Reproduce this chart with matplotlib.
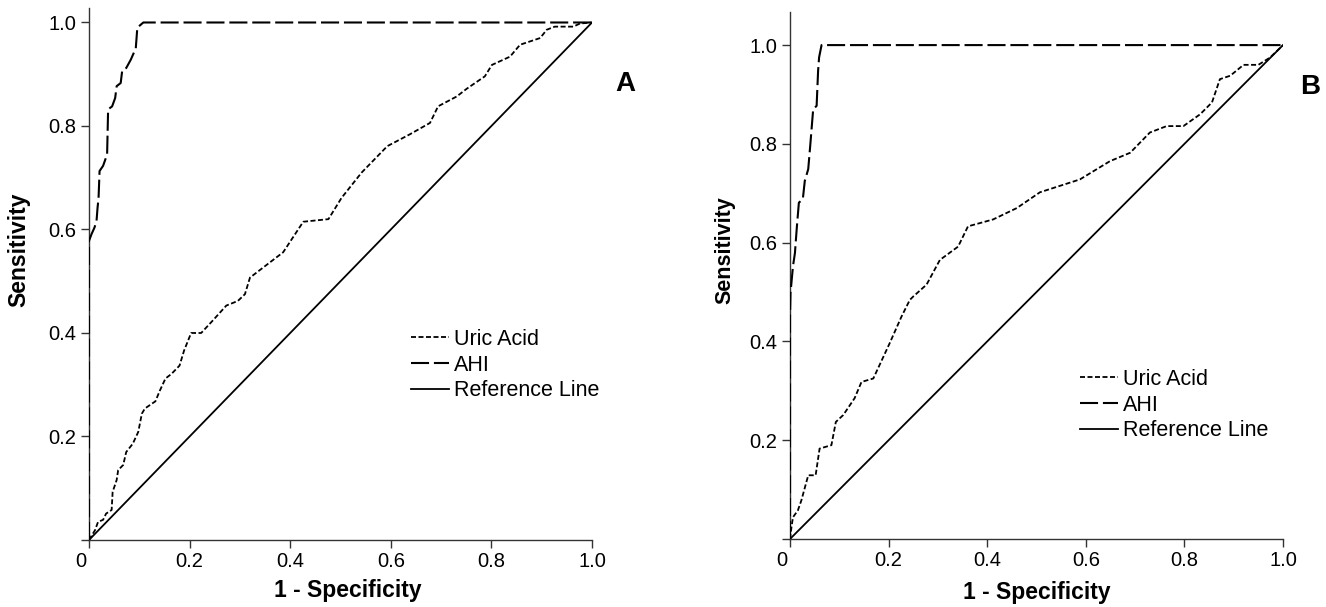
import numpy as np
import matplotlib
matplotlib.use('Agg')
import matplotlib.pyplot as plt

plt.rcParams['font.family'] = ['Liberation Sans', 'DejaVu Sans']
plt.rcParams['lines.scale_dashes'] = False

# Panel A - ROC curves
a_ahi_x = [0, 0, 0.005, 0.011, 0.015, 0.017, 0.019, 0.021, 0.028, 0.036, 0.038, 0.046,
           0.052, 0.055, 0.063, 0.066, 0.074, 0.083, 0.093, 0.095, 0.096, 0.108, 1.0]
a_ahi_y = [0, 0.578, 0.591, 0.604, 0.617, 0.642, 0.661, 0.713, 0.723, 0.745, 0.832, 0.838,
           0.854, 0.877, 0.883, 0.907, 0.912, 0.928, 0.950, 0.976, 0.990, 1.0, 1.0]

a_uric_x = [0, 0.012, 0.018, 0.028, 0.034, 0.045, 0.047, 0.055, 0.058, 0.068, 0.074, 0.087,
            0.098, 0.105, 0.111, 0.132, 0.141, 0.152, 0.164, 0.180, 0.189, 0.203, 0.223,
            0.246, 0.273, 0.296, 0.310, 0.320, 0.386, 0.426, 0.476, 0.502, 0.542, 0.593,
            0.638, 0.678, 0.694, 0.731, 0.751, 0.787, 0.801, 0.837, 0.857, 0.897, 0.910,
            0.926, 0.963, 0.976, 1.0]
a_uric_y = [0, 0.019, 0.035, 0.039, 0.051, 0.058, 0.093, 0.116, 0.135, 0.145, 0.170, 0.186,
            0.209, 0.244, 0.254, 0.268, 0.289, 0.312, 0.321, 0.337, 0.366, 0.400, 0.400,
            0.424, 0.453, 0.462, 0.475, 0.507, 0.556, 0.615, 0.620, 0.661, 0.710, 0.761,
            0.784, 0.806, 0.838, 0.857, 0.872, 0.896, 0.918, 0.934, 0.957, 0.970, 0.986,
            0.992, 0.992, 0.998, 1.0]

# Panel B
b_ahi_x = [0, 0, 0.001, 0.006, 0.010, 0.014, 0.018, 0.026, 0.030, 0.037, 0.041, 0.047,
           0.054, 0.057, 0.059, 0.064, 1.0]
b_ahi_y = [0, 0.45, 0.498, 0.552, 0.579, 0.633, 0.681, 0.688, 0.725, 0.749, 0.796, 0.870,
           0.877, 0.948, 0.975, 1.0, 1.0]

b_uric_x = [0, 0.003, 0.006, 0.016, 0.023, 0.037, 0.052, 0.060, 0.084, 0.093, 0.108, 0.131,
            0.145, 0.169, 0.202, 0.226, 0.243, 0.250, 0.277, 0.304, 0.341, 0.361, 0.412,
            0.460, 0.507, 0.588, 0.649, 0.690, 0.730, 0.764, 0.798, 0.832, 0.856, 0.872,
            0.893, 0.920, 0.950, 0.974, 1.0]
b_uric_y = [0, 0.024, 0.044, 0.058, 0.078, 0.129, 0.129, 0.183, 0.190, 0.237, 0.251, 0.285,
            0.318, 0.325, 0.396, 0.450, 0.484, 0.491, 0.515, 0.565, 0.592, 0.633, 0.647,
            0.670, 0.702, 0.728, 0.765, 0.782, 0.823, 0.836, 0.836, 0.860, 0.884, 0.931,
            0.938, 0.960, 0.960, 0.975, 1.0]

ref_line = [0, 1]
tick_vals = [0, 0.2, 0.4, 0.6, 0.8, 1.0]
x_labels = ['', '0.2', '0.4', '0.6', '0.8', '1.0']
y_labels = ['', '0.2', '0.4', '0.6', '0.8', '1.0']

W, H = 1326, 607
fig = plt.figure(figsize=(W / 100, H / 100), dpi=100)


def px_axes(l, r, b, t):
    # axes box from pixel edges
    return fig.add_axes([l / W, (H - b) / H, (r - l) / W, (b - t) / H])


def draw_panel(ax, ahi_x, ahi_y, uric_x, uric_y, ytop, legend_pos, fs):
    uric_style = (0, (3.6, 1.8))
    ahi_style = (0, (13, 3.5))
    ax.plot(uric_x, uric_y, color='black', lw=1.3, linestyle=uric_style, label='Uric Acid')
    ax.plot(ahi_x, ahi_y, color='black', lw=1.5, linestyle=ahi_style, label='AHI')
    ax.plot(ref_line, ref_line, color='black', lw=1.3, label='Reference Line')
    ax.set_xlim(0, 1)
    ax.set_ylim(0, ytop)
    for s in ['top', 'right']:
        ax.spines[s].set_visible(False)
    for s in ['left', 'bottom']:
        ax.spines[s].set_color('#333333')
        ax.spines[s].set_linewidth(1.0)
        ax.spines[s].set_zorder(0)
    ax.set_xticks(tick_vals)
    ax.set_xticklabels(x_labels)
    ax.set_yticks(tick_vals)
    ax.set_yticklabels(y_labels)
    ax.tick_params(direction='out', length=5.8, width=1.0, color='#333333', labelsize=fs)
    ax.tick_params(axis='x', pad=2.5)
    ax.tick_params(axis='y', pad=3.2)
    ax.annotate('0', xy=(0, 0), xycoords='data', xytext=(-6, -8.3), textcoords='offset points',
                ha='center', va='top', fontsize=fs)
    leg = ax.legend(loc='upper left', bbox_to_anchor=legend_pos, bbox_transform=fig.transFigure,
                    frameon=False, fontsize=15.5, handlelength=1.75, handletextpad=0.25,
                    labelspacing=0.22, borderpad=0, borderaxespad=0)
    return leg


ax1 = px_axes(89, 592, 540, 8)
draw_panel(ax1, a_ahi_x, a_ahi_y, a_uric_x, a_uric_y, 1.028, (411 / W, 1 - 329 / H), 14.5)

ax2 = px_axes(790, 1283, 539, 12)
draw_panel(ax2, b_ahi_x, b_ahi_y, b_uric_x, b_uric_y, 1.067, (1080 / W, 1 - 369 / H), 14.5)

# axis labels placed as on the picture
fig.text(19 / W, 1 - 250 / H, 'Sensitivity', rotation=90, ha='center', va='center',
         fontsize=16.5, fontweight='bold')
fig.text(348 / W, 1 - 590 / H, '1 - Specificity', ha='center', va='center',
         fontsize=16.5, fontweight='bold')
fig.text(725 / W, 1 - 250 / H, 'Sensitivity', rotation=90, ha='center', va='center',
         fontsize=15.5, fontweight='bold')
fig.text(1037 / W, 1 - 593 / H, '1 - Specificity', ha='center', va='center',
         fontsize=16.5, fontweight='bold')

fig.text(625 / W, 1 - 84 / H, 'A', ha='center', va='center', fontsize=20, fontweight='bold')
fig.text(1310 / W, 1 - 87 / H, 'B', ha='center', va='center', fontsize=20, fontweight='bold')

fig.savefig('out.png', dpi=100)
